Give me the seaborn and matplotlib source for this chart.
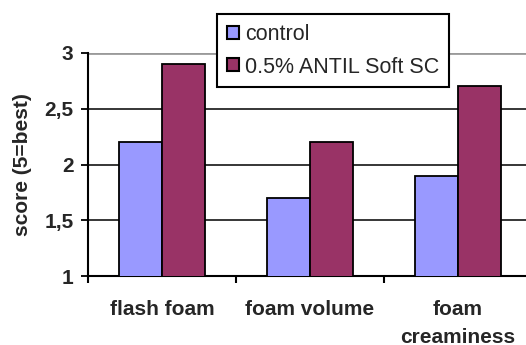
import matplotlib
matplotlib.use('Agg')
import matplotlib.pyplot as plt
import seaborn as sns
import pandas as pd

categories = ['flash foam', 'foam volume', 'foam\ncreaminess']
series = ['control', '0.5% ANTIL Soft SC']
control = [2.2, 1.7, 1.9]
antil = [2.9, 2.2, 2.7]
yticks = [1, 1.5, 2, 2.5, 3]
ytick_labels = ['1', '1,5', '2', '2,5', '3']
colors = ['#9999FF', '#993366']

df = pd.DataFrame({
    'category': categories * 2,
    'series': [series[0]] * len(categories) + [series[1]] * len(categories),
    'score': control + antil,
})

sns.set_theme(style='white')
plt.rcParams['font.family'] = ['Liberation Sans', 'DejaVu Sans']

fig = plt.figure(figsize=(5.26, 3.45), dpi=100)
ax = fig.add_axes([88 / 526, 69 / 345, 444 / 526, 223 / 345])

sns.barplot(data=df, x='category', y='score', hue='series', order=categories,
            hue_order=series, palette=colors, width=0.575, gap=0,
            edgecolor='black', linewidth=1.3, saturation=1, ax=ax, zorder=3)

ax.set_xlim(-0.5, 2.5)
ax.set_ylim(1, 3)
ax.set_yticks(yticks)
ax.set_yticklabels(ytick_labels, fontsize=15, fontweight='bold')
ax.set_axisbelow(True)
ax.yaxis.grid(True, color='black', linewidth=1.1)
ax.get_ygridlines()[-1].set_color('#9a9a9a')
ax.get_ygridlines()[-1].set_linewidth(2)

ax.set_xticks(range(len(categories)))
ax.set_xticklabels(categories, fontsize=15, fontweight='bold', linespacing=1.65)
ax.set_xticks([-0.5, 0.5, 1.5, 2.5], minor=True)
ax.tick_params(axis='x', which='major', length=0, pad=17)
ax.tick_params(axis='x', which='minor', length=5, width=1.5, color='black', direction='out', bottom=True)
ax.tick_params(axis='y', which='major', length=5, width=1.3, color='black', direction='out', left=True, pad=5.5)

ax.set_xlabel('')
ax.set_ylabel('score (5=best)', fontsize=15, fontweight='bold', labelpad=9)

for s in ['top', 'right']:
    ax.spines[s].set_visible(False)
for s in ['left', 'bottom']:
    ax.spines[s].set_color('black')
    ax.spines[s].set_linewidth(1.5)

leg = ax.legend(loc='upper left', bbox_to_anchor=(217 / 526, 1 - 14 / 345),
                bbox_transform=fig.transFigure, fontsize=15.5, frameon=True,
                fancybox=False, edgecolor='black', framealpha=1,
                handlelength=0.55, handleheight=0.55, handletextpad=0.3,
                borderpad=0.45, labelspacing=0.55, borderaxespad=0, title=None)
leg.get_frame().set_linewidth(1.5)
leg.set_zorder(10)
for h in leg.legend_handles:
    h.set_edgecolor('black')
    h.set_linewidth(1.5)

fig.savefig('out.png', dpi=100)
